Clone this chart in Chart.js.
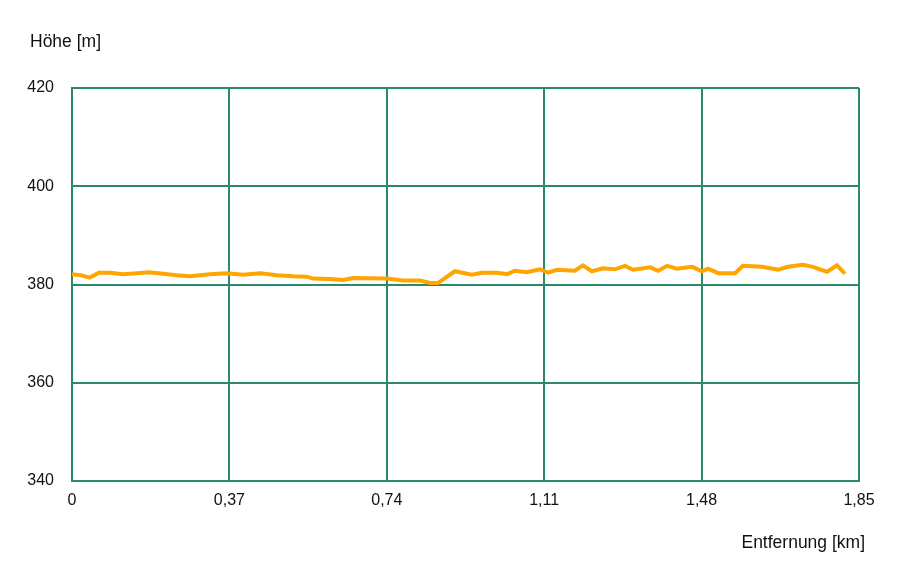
<!DOCTYPE html>
<html>
<head>
<meta charset="utf-8">
<script src="https://cdn.jsdelivr.net/npm/chart.js@4/dist/chart.umd.min.js"></script>
<style>
  html, body { margin: 0; padding: 0; background: #fff; }
  #wrap { position: relative; width: 900px; height: 572px; }
  canvas { position: absolute; left: 0; top: 0; }
  .t { position: absolute; font-family: "Liberation Sans", Arial, sans-serif; font-size: 17.5px; color: #111; white-space: nowrap; }
</style>
</head>
<body>
<div id="wrap">
  <canvas id="c" width="900" height="572"></canvas>
  <div class="t" style="left:30px; top:31px;">Höhe [m]</div>
  <div class="t" style="right:35px; top:532px;">Entfernung [km]</div>
</div>
<script>
const distanceKm = [0, 0.02, 0.042, 0.063, 0.089, 0.12, 0.153, 0.181, 0.214, 0.247, 0.277, 0.301, 0.324, 0.364, 0.402, 0.442, 0.482, 0.52, 0.552, 0.567, 0.606, 0.637, 0.661, 0.74, 0.778, 0.818, 0.842, 0.86, 0.9, 0.94, 0.964, 0.999, 1.023, 1.041, 1.069, 1.1, 1.119, 1.14, 1.182, 1.201, 1.222, 1.248, 1.276, 1.3, 1.319, 1.359, 1.378, 1.399, 1.422, 1.458, 1.481, 1.495, 1.519, 1.559, 1.577, 1.622, 1.66, 1.683, 1.718, 1.742, 1.758, 1.775, 1.798, 1.817];
const elevationM = [382.1, 381.9, 381.4, 382.4, 382.4, 382.1, 382.3, 382.5, 382.2, 381.9, 381.7, 381.9, 382.1, 382.3, 382.0, 382.3, 381.9, 381.7, 381.6, 381.2, 381.1, 380.9, 381.3, 381.2, 380.8, 380.8, 380.3, 380.3, 382.7, 382.0, 382.4, 382.4, 382.1, 382.8, 382.5, 383.1, 382.4, 383.0, 382.8, 383.9, 382.7, 383.3, 383.1, 383.8, 383.0, 383.5, 382.8, 383.8, 383.2, 383.6, 382.7, 383.2, 382.3, 382.3, 383.8, 383.6, 383.0, 383.6, 384.0, 383.6, 383.1, 382.6, 383.9, 382.2];
const xTickValues = [0, 0.37, 0.74, 1.11, 1.48, 1.85];
const xTickLabels = ['0', '0,37', '0,74', '1,11', '1,48', '1,85'];
const yTickValues = [340, 360, 380, 400, 420];

const gridColor = '#2b8a6e';
const font = { family: '"Liberation Sans", Arial, sans-serif', size: 16 };

new Chart(document.getElementById('c'), {
  type: 'line',
  data: {
    datasets: [{
      data: distanceKm.map((d, i) => ({ x: d, y: elevationM[i] })),
      borderColor: '#ffa500',
      borderWidth: 4,
      pointRadius: 0,
      tension: 0,
      fill: false
    }]
  },
  options: {
    responsive: false,
    animation: false,
    devicePixelRatio: 1,
    layout: { padding: { left: 0, right: 41, top: 88, bottom: 0 } },
    plugins: { legend: { display: false }, tooltip: { enabled: false } },
    scales: {
      x: {
        type: 'linear',
        min: 0, max: 1.85,
        afterBuildTicks: s => { s.ticks = xTickValues.map(v => ({ value: v })); },
        afterFit: s => { s.height = 91; },
        ticks: {
          color: '#111', font: font, padding: 10, maxRotation: 0, autoSkip: false,
          callback: (v, i) => xTickLabels[i]
        },
        grid: { color: gridColor, lineWidth: 2, drawTicks: false },
        border: { color: gridColor, width: 2 }
      },
      y: {
        min: 340, max: 420,
        afterBuildTicks: s => { s.ticks = yTickValues.map(v => ({ value: v })); },
        afterFit: s => { s.width = 72; },
        ticks: { color: '#111', font: font, padding: 18 },
        grid: { color: gridColor, lineWidth: 2, drawTicks: false },
        border: { color: gridColor, width: 2 }
      }
    }
  }
});
</script>
</body>
</html>
